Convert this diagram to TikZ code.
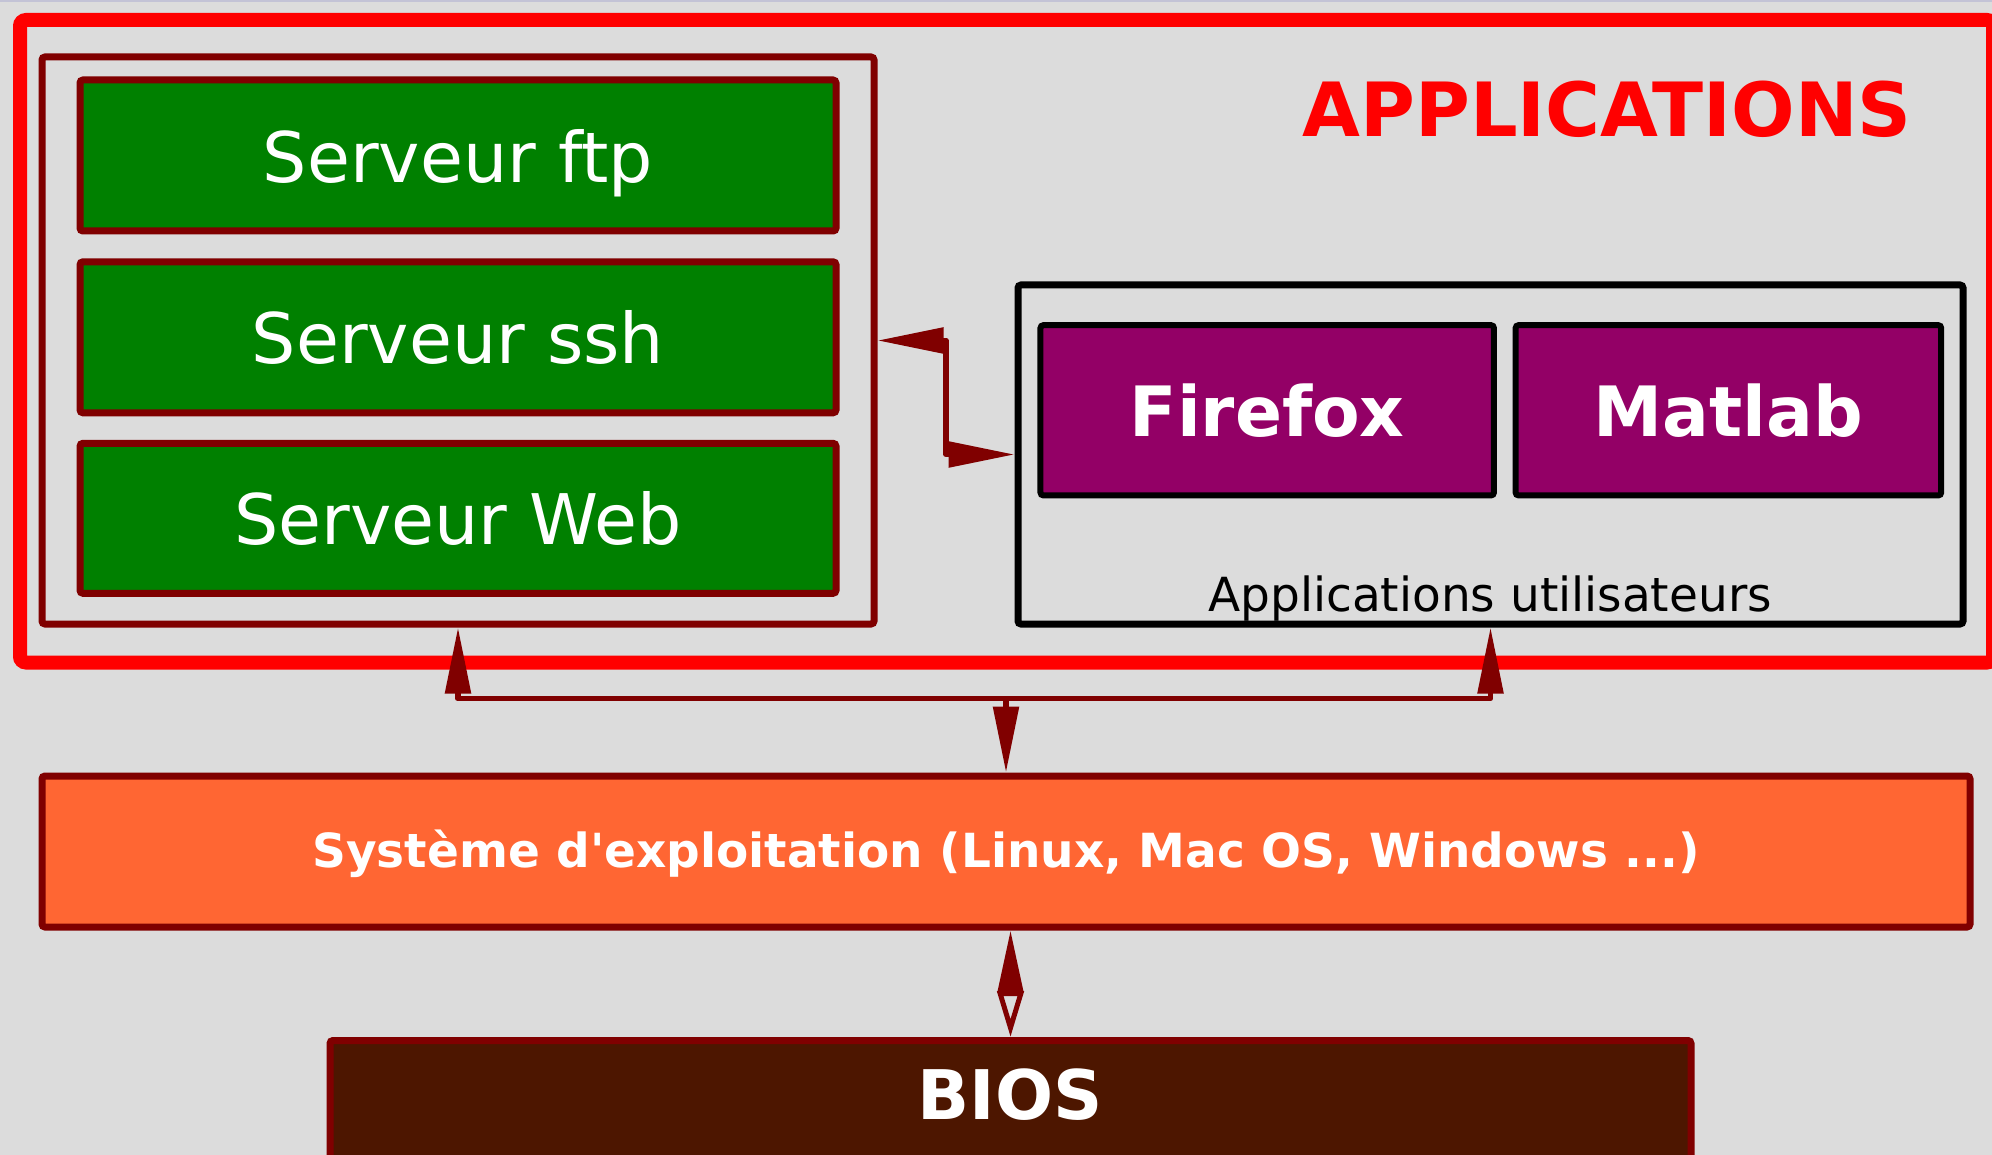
\documentclass[tikz,border=0pt]{standalone}
\usepackage{fontspec}
\newfontfamily\djv{DejaVu Sans}
\usetikzlibrary{arrows.meta}
\definecolor{bg}{HTML}{DCDCDC}
\definecolor{darkred}{HTML}{800000}
\definecolor{srvgreen}{HTML}{008000}
\definecolor{apppurple}{HTML}{930066}
\definecolor{osorange}{HTML}{FF6633}
\definecolor{biosbrown}{HTML}{4D1600}
\definecolor{topline}{HTML}{C3C3D6}
\begin{document}
\begin{tikzpicture}[x=0.5pt,y=-0.5pt,
  box/.style={draw, line width=3.5pt, rounded corners=1.5pt, inner sep=0pt, anchor=center},
  srv/.style={box, draw=darkred, fill=srvgreen, text=white, minimum width=378pt, minimum height=75.5pt, text depth=0pt, font=\djv\fontsize{34.9}{40}\selectfont},
  prog/.style={box, draw=black, line width=3pt, fill=apppurple, text=white, minimum height=85.15pt, font=\djv\bfseries\fontsize{34.7}{40}\selectfont},
  conn/.style={draw=darkred, line width=2.75pt, line join=round},
  >={Triangle[length=33pt,width=12.5pt]}]
\useasboundingbox (0,0) rectangle (1992,1155);
\clip (0,0) rectangle (1992,1155);
\fill[bg] (0,0) rectangle (1992,1155);
\fill[topline] (0,0) rectangle (1992,2.5);
% frame
\node[box, draw=red, line width=7pt, rounded corners=3pt, minimum width=986.5pt, minimum height=321.25pt] (appframe) at (1006.5,341.25) {};
\node[text=red, font=\djv\bfseries\fontsize{37.4}{44}\selectfont] (apptitle) at (1607,109.5) {APPLICATIONS};
% servers
\node[box, draw=darkred, minimum width=416pt, minimum height=283.5pt] (group) at (458,340.5) {};
\node[srv] (ftp) at (458,155.5) {Serveur ftp};
\node[srv] (ssh) at (458,337.3) {Serveur ssh};
\node[srv, minimum height=75pt] (web) at (458,518.3) {Serveur Web};
% user apps
\node[box, draw=black, minimum width=472.5pt, minimum height=169.5pt] (apps) at (1490.5,454.5) {};
\node[prog, minimum width=226.75pt] (firefox) at (1267.2,410.3) {Firefox};
\node[prog, minimum width=212.8pt] (matlab) at (1728.4,410.3) {Matlab};
\node[font=\djv\fontsize{23.5}{28}\selectfont] (usertitle) at (1490,599) {Applications utilisateurs};
% OS and BIOS
\node[box, draw=darkred, fill=osorange, minimum width=964pt, minimum height=75.5pt] (os) at (1006,851.5) {};
\node[text=white, font=\djv\bfseries\fontsize{23.5}{28}\selectfont] (ostext) at (1006,854) {Syst\`eme d'exploitation (Linux, Mac OS, Windows ...)};
\node[box, draw=darkred, fill=biosbrown, minimum width=680.5pt, minimum height=64.5pt] (bios) at (1010.5,1105) {};
\node[text=white, font=\djv\bfseries\fontsize{34.2}{40}\selectfont] (biostext) at (1010,1095) {BIOS};
% connectors
\coordinate (bus) at (1006,698.7);
\coordinate (knee) at (946,0);
\draw[conn,->] (bus) -- (os.north);
\draw[conn,->] (bus) -| (group.south);
\draw[conn,->] (bus) -| (apps.south);
\draw[conn,<->] (group.east) -| (knee |- apps.west) -- (apps.west);
\draw[conn, line width=2.5pt, {Triangle[open,length=23pt,width=13pt]}-{Triangle[length=31pt,width=12.5pt]}] (bios.north) -- (bios.north |- os.south);
\end{tikzpicture}
\end{document}
